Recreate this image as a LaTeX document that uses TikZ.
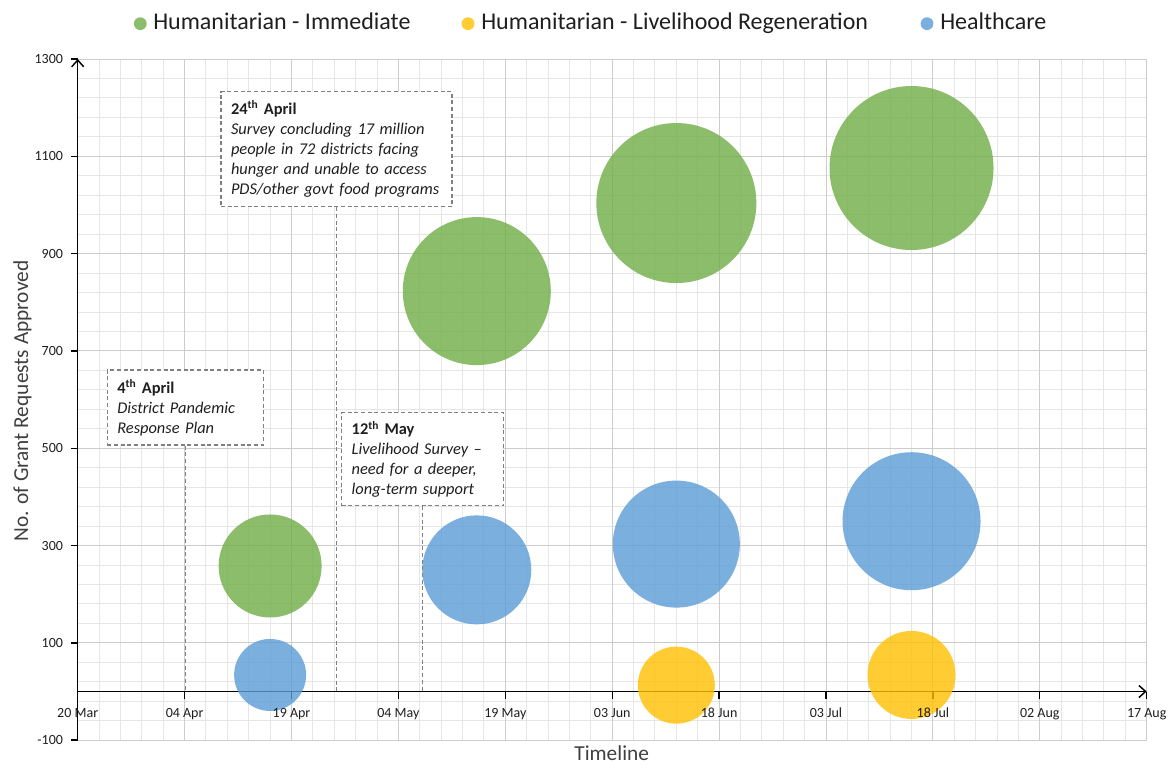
\documentclass[tikz,border=0pt]{standalone}
\usepackage{fontspec}
\setmainfont{Carlito}
\usepackage{xcolor}
\usetikzlibrary{arrows.meta}
\definecolor{hgreen}{HTML}{70AD47}
\definecolor{hgold}{HTML}{FFC000}
\definecolor{hblue}{HTML}{5B9BD5}
\definecolor{gridlight}{HTML}{E6E6E6}
\definecolor{gridmid}{HTML}{CCCCCC}
\definecolor{ink}{HTML}{1F1F1F}
\definecolor{titlegray}{HTML}{404040}
\definecolor{dashgray}{HTML}{808080}

\begin{document}
\begin{tikzpicture}[x=0.75pt,y=0.75pt,
  minorgrid/.style={draw=gridlight,line width=0.75pt},
  majorgrid/.style={draw=gridmid,line width=0.75pt},
  axisline/.style={draw=black,line width=1.1pt},
  tickmark/.style={draw=black,line width=1pt},
  bubble/.style={fill=#1,fill opacity=0.8},
  xlab/.style={anchor=base,inner sep=0pt,font=\fontsize{10.5}{12}\selectfont,text=ink},
  ylab/.style={anchor=east,inner sep=0pt,font=\fontsize{10.5}{12}\selectfont,text=ink},
  legtext/.style={anchor=base west,inner sep=0pt,font=\fontsize{18}{21}\selectfont,text=ink},
  axtitle/.style={anchor=base,inner sep=0pt,font=\fontsize{16}{19}\selectfont,text=titlegray},
  note/.style={draw=dashgray,dash pattern=on 3pt off 2pt,line width=0.8pt,fill=white,align=left,inner xsep=7.5pt,inner ysep=0pt,font=\fontsize{12.3}{15}\selectfont,text=ink},
  leader/.style={draw=dashgray,dash pattern=on 3pt off 2pt,line width=0.75pt}]
\useasboundingbox (0,0) rectangle (1174,764);
\fill[white] (0,0) rectangle (1174,764);
% legend
\fill[bubble=hgreen] (140.3,740.3) circle (6.4);
\node[legtext] (legimm) at (153,734) {Humanitarian - Immediate};
\fill[bubble=hgold] (468,740.3) circle (6.4);
\node[legtext] (legliv) at (481,734) {Humanitarian - Livelihood Regeneration};
\fill[bubble=hblue] (927,740.3) circle (6.4);
\node[legtext] (legheal) at (940,734) {Healthcare};
% axis titles
\node[axtitle,rotate=90] (ytitle) at (28,363) {No. of Grant Requests Approved};
\node[axtitle] (xtitle) at (611.7,4) {Timeline};
% chart area: days since 20 Mar vs. requests
\begin{scope}[shift={(77.7,72.5)},x=5.345pt,y=0.36488pt]
\foreach \d in {0,3,...,150} \draw[minorgrid] (\d,-100) -- (\d,1300);
\foreach \v in {-100,-60,...,1300} \draw[minorgrid] (0,\v) -- (150,\v);
\foreach \d in {0,15,...,150} \draw[majorgrid] (\d,-100) -- (\d,1300);
\foreach \v in {-100,100,...,1300} \draw[majorgrid] (0,\v) -- (150,\v);
\coordinate (orig) at (0,0);
\coordinate (ytop) at (0,1300);
\coordinate (ybot) at (0,-100);
\coordinate (xend) at (150,0);
\draw[axisline,-{Straight Barb[length=5pt,width=9pt]}] (ybot) -- (ytop);
\draw[axisline,-{Straight Barb[length=5pt,width=9pt]}] (orig) -- (xend);
\foreach \d in {0,15,...,150} \draw[tickmark] (\d,0) -- ++(0pt,-5.25pt);
\foreach \v in {-100,100,...,1300} \draw[tickmark] (0,\v) -- ++(-5pt,0pt);
% bubbles
\foreach \d/\v/\r in {27/258/51.5,56/823/74,84/1004/80,117/1076/82}
  \fill[bubble=hgreen] (\d,\v) circle[radius=\r*0.75pt];
\foreach \d/\v/\r in {84/13/38.5,117/34/44}
  \fill[bubble=hgold] (\d,\v) circle[radius=\r*0.75pt];
\foreach \d/\v/\r in {27/34/36,56/250/54.5,84/303/63.5,117/350/69}
  \fill[bubble=hblue] (\d,\v) circle[radius=\r*0.75pt];
% tick labels
\foreach \d/\lab in {0/20 Mar,15/04 Apr,30/19 Apr,45/04 May,60/19 May,75/03 Jun,90/18 Jun,105/03 Jul,120/18 Jul,135/02 Aug,150/17 Aug}
  \node[xlab,yshift=-19.5pt] (x\d) at (\d,0) {\lab};
\foreach \v in {-100,100,...,1300}
  \node[ylab,xshift=-10.8pt] (y\v) at (0,\v) {\v};
\end{scope}
% event notes
\node[note,text width=102pt,minimum height=56.25pt] (aprfour) at (185.3,356.5)
  {\textbf{4\textsuperscript{th} April}\\\textit{District Pandemic}\\\textit{Response Plan}};
\node[note,text width=158.25pt,minimum height=86.25pt] (aprtwentyfour) at (336.5,614.8)
  {\textbf{24\textsuperscript{th} April}\\\textit{Survey concluding 17 million}\\\textit{people in 72 districts facing}\\\textit{hunger and unable to access}\\\textit{PDS/other govt food programs}};
\node[note,text width=106.2pt,minimum height=70pt] (maytwelve) at (422.5,304.7)
  {\textbf{12\textsuperscript{th} May}\\\textit{Livelihood Survey –}\\\textit{need for a deeper,}\\\textit{long-term support}};
\draw[leader] (aprfour.south) -- (aprfour.south |- orig);
\draw[leader] (aprtwentyfour.south) -- (aprtwentyfour.south |- orig);
\draw[leader] (maytwelve.south) -- (maytwelve.south |- orig);
\end{tikzpicture}
\end{document}
